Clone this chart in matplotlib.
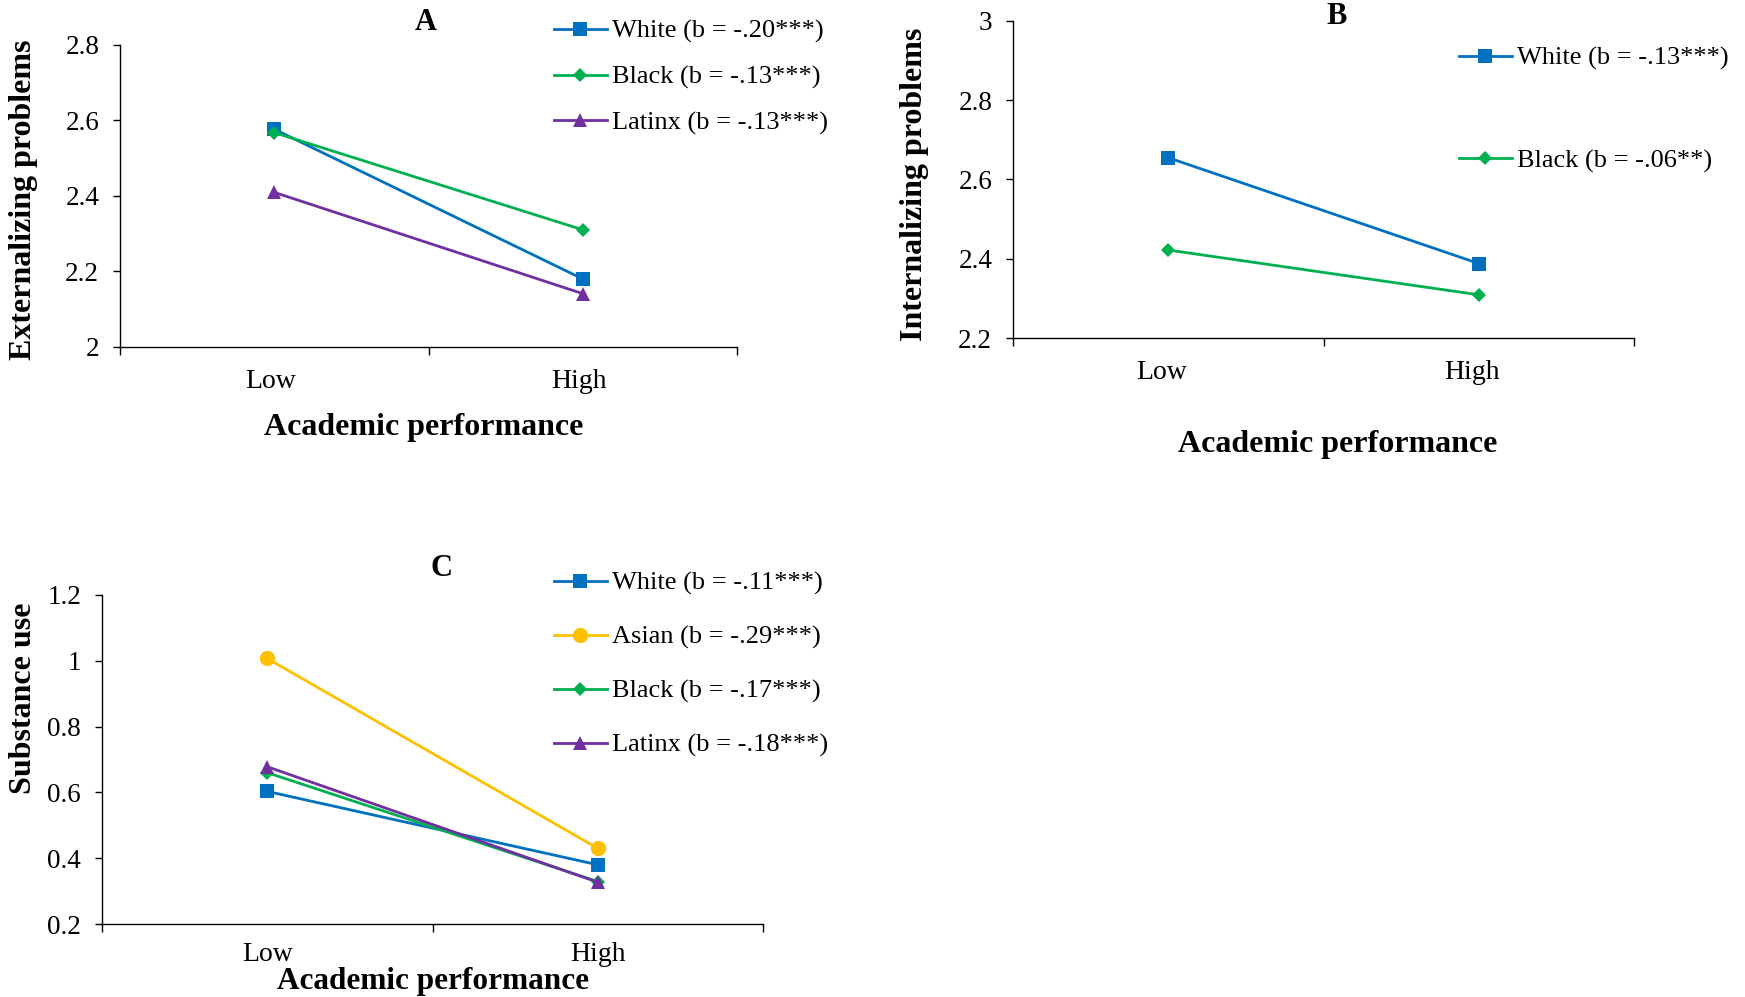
import matplotlib
matplotlib.use('Agg')
import matplotlib.pyplot as plt
from matplotlib.ticker import FuncFormatter
from matplotlib.transforms import ScaledTranslation

plt.rcParams['font.family'] = ['Liberation Serif', 'DejaVu Serif']

W, H = 1745, 997

categories = ['Low', 'High']

# panel A - externalizing problems
ext_white = [2.576, 2.180]
ext_black = [2.567, 2.310]
ext_latinx = [2.409, 2.141]
ext_labels = ['White (b = -.20***)', 'Black (b = -.13***)', 'Latinx (b = -.13***)']

# panel B - internalizing problems
int_white = [2.655, 2.388]
int_black = [2.422, 2.309]
int_labels = ['White (b = -.13***)', 'Black (b = -.06**)']

# panel C - substance use
sub_white = [0.603, 0.380]
sub_asian = [1.007, 0.430]
sub_black = [0.660, 0.329]
sub_latinx = [0.678, 0.327]
sub_labels = ['White (b = -.11***)', 'Asian (b = -.29***)',
              'Black (b = -.17***)', 'Latinx (b = -.18***)']

BLUE, GREEN, PURPLE, GOLD = '#0070C0', '#00B050', '#7030A0', '#FFC000'
STYLE = {
    'White': dict(color=BLUE, marker='s', ms=10.5),
    'Black': dict(color=GREEN, marker='D', ms=7.5),
    'Latinx': dict(color=PURPLE, marker='^', ms=10.5),
    'Asian': dict(color=GOLD, marker='o', ms=11),
}


def fx(px):
    return px / W


def fy(py):
    return 1 - py / H


def make_axes(fig, left, top, right, bottom):
    return fig.add_axes([fx(left), fy(bottom), fx(right) - fx(left), (bottom - top) / H])


def setup(ax, ylim, step, xshift=0, xpad=16):
    ax.set_xlim(-0.5, 1.5)
    ax.set_ylim(*ylim)
    ax.set_xticks([-0.5, 0.5, 1.5])
    ax.set_xticklabels([])
    ax.set_xticks([0, 1], minor=True)
    ax.set_xticklabels(categories, minor=True)
    ax.tick_params(axis='x', which='minor', length=0, pad=xpad, labelsize=20)
    ax.tick_params(axis='x', which='major', length=6, width=1, direction='out')
    if xshift:
        shift = ScaledTranslation(xshift / 100, 0, ax.figure.dpi_scale_trans)
        for lab in ax.get_xticklabels(minor=True):
            lab.set_transform(lab.get_transform() + shift)
    n = int(round((ylim[1] - ylim[0]) / step))
    ax.set_yticks([ylim[0] + i * step for i in range(n + 1)])
    ax.yaxis.set_major_formatter(FuncFormatter(lambda v, p: '%g' % round(v, 2)))
    ax.tick_params(axis='y', length=5, width=1, direction='out', pad=10, labelsize=19.5)
    for s in ['top', 'right']:
        ax.spines[s].set_visible(False)
    for s in ['left', 'bottom']:
        ax.spines[s].set_linewidth(1)
        ax.spines[s].set_color('black')


def draw(ax, series):
    for name, vals, lab in series:
        ax.plot([0, 1], vals, lw=2, mew=0, label=lab, **STYLE[name])


def labels(ax, xl, xpos, yl, ypos, xsize=23):
    ax.set_xlabel(xl, fontsize=xsize, fontweight='bold', va='center')
    ax.xaxis.set_label_coords(fx(xpos[0]), fy(xpos[1]), transform=ax.figure.transFigure)
    ax.set_ylabel(yl, fontsize=23, fontweight='bold', va='center')
    ax.yaxis.set_label_coords(fx(ypos[0]), fy(ypos[1]), transform=ax.figure.transFigure)


def legend(ax, x, y, spacing):
    ax.legend(loc='upper left', bbox_to_anchor=(fx(x), fy(y)),
              bbox_transform=ax.figure.transFigure, frameon=False,
              fontsize=19, handlelength=2.0, handletextpad=0.2,
              borderpad=0, borderaxespad=0, labelspacing=spacing)


fig = plt.figure(figsize=(W / 100, H / 100), dpi=100)

# A
axA = make_axes(fig, 120, 44.5, 737, 347)
setup(axA, (2.0, 2.8), 0.2, xshift=-3.5)
draw(axA, [('White', ext_white, ext_labels[0]),
           ('Black', ext_black, ext_labels[1]),
           ('Latinx', ext_latinx, ext_labels[2])])
labels(axA, 'Academic performance', (424, 427), 'Externalizing problems', (24, 200))
legend(axA, 554, 19.5, 0.83)
fig.text(fx(426), fy(22), 'A', fontsize=22, fontweight='bold', ha='center', va='center')

# B
axB = make_axes(fig, 1013, 21, 1634, 338)
setup(axB, (2.2, 3.0), 0.2, xshift=-6.5)
draw(axB, [('White', int_white, int_labels[0]),
           ('Black', int_black, int_labels[1])])
labels(axB, 'Academic performance', (1338, 444), 'Internalizing problems', (915, 184))
legend(axB, 1459, 46.5, 2.97)
fig.text(fx(1337), fy(16), 'B', fontsize=22, fontweight='bold', ha='center', va='center')

# C
axC = make_axes(fig, 102, 595, 763, 924)
setup(axC, (0.2, 1.2), 0.2, xpad=13)
draw(axC, [('White', sub_white, sub_labels[0]),
           ('Asian', sub_asian, sub_labels[1]),
           ('Black', sub_black, sub_labels[2]),
           ('Latinx', sub_latinx, sub_labels[3])])
labels(axC, 'Academic performance', (433, 981), 'Substance use', (24, 698), xsize=22.5)
legend(axC, 554, 571.5, 1.14)
fig.text(fx(442), fy(568), 'C', fontsize=22, fontweight='bold', ha='center', va='center')

fig.savefig('out.png', dpi=100)
